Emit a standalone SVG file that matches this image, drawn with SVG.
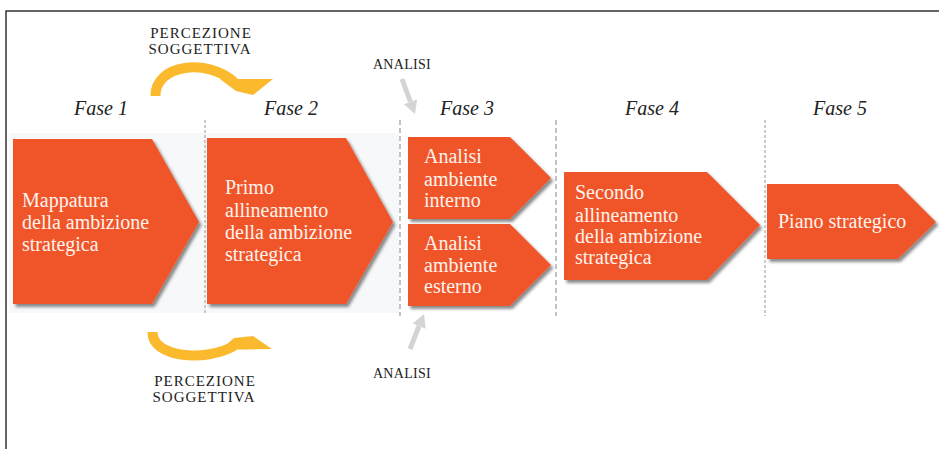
<svg xmlns="http://www.w3.org/2000/svg" width="939" height="449" viewBox="0 0 939 449">
  <defs>
    <filter id="shadow" x="-10%" y="-10%" width="130%" height="130%">
      <feDropShadow dx="2.5" dy="3" stdDeviation="1.6" flood-color="#000" flood-opacity="0.45"/>
    </filter>
  </defs>
  <style>
    .step { fill: #F0552A; filter: url(#shadow); }
    .step-text { font-family: "Liberation Serif", "Times New Roman", serif; font-size: 20px; fill: #FFF3EC; }
    .phase { font-family: "Liberation Serif", "Times New Roman", serif; font-style: italic; font-size: 20px; fill: #222; text-anchor: middle; }
    .caps { font-family: "Liberation Serif", "Times New Roman", serif; fill: #222; text-anchor: middle; }
    .perception { font-size: 15px; letter-spacing: 1px; }
    .analysis { font-size: 14px; letter-spacing: 0.3px; }
    .divider { stroke: #9a9a9a; stroke-width: 1.2; stroke-dasharray: 5 3; fill: none; }
    .divider.fine { stroke-dasharray: 3 2; stroke: #aaaaaa; }
    .loop { fill: none; stroke: #FBB92E; stroke-width: 10; }
    .loop-head { fill: #FBB92E; }
    .probe { stroke: #D3D4D6; stroke-width: 5; fill: none; }
    .probe-head { fill: #D3D4D6; }
  </style>

  <rect width="939" height="449" fill="#ffffff"/>

  <!-- frame -->
  <path d="M6,449 V11 H939" fill="none" stroke="#333" stroke-width="1.5"/>

  <!-- light band behind the first two phases -->
  <rect x="9" y="133" width="390" height="180" fill="#f7f8f9"/>

  <!-- phase headings -->
  <g id="phase-labels">
    <text class="phase" x="101" y="115">Fase 1</text>
    <text class="phase" x="291" y="115">Fase 2</text>
    <text class="phase" x="467" y="115">Fase 3</text>
    <text class="phase" x="652" y="115">Fase 4</text>
    <text class="phase" x="840" y="115">Fase 5</text>
  </g>

  <!-- phase dividers -->
  <g id="dividers">
    <line class="divider fine" x1="205" y1="120" x2="205" y2="314"/>
    <line class="divider" x1="400" y1="120" x2="400" y2="316"/>
    <line class="divider" x1="556" y1="120" x2="556" y2="316"/>
    <line class="divider fine" x1="765" y1="120" x2="765" y2="316"/>
  </g>

  <!-- steps -->
  <g id="step-1">
    <polygon class="step" points="13,139 152,139 199,222 152,304 13,304"/>
    <text class="step-text" x="22" y="207">Mappatura</text>
    <text class="step-text" x="22" y="229">della ambizione</text>
    <text class="step-text" x="22" y="251">strategica</text>
  </g>

  <g id="step-2">
    <polygon class="step" points="207,138 346,138 393,222 346,304 207,304"/>
    <text class="step-text" x="225" y="194">Primo</text>
    <text class="step-text" x="225" y="217">allineamento</text>
    <text class="step-text" x="225" y="239">della ambizione</text>
    <text class="step-text" x="225" y="261">strategica</text>
  </g>

  <g id="step-3a">
    <polygon class="step" points="408,137 510,137 551,178 510,219 408,219"/>
    <text class="step-text" x="424" y="163">Analisi</text>
    <text class="step-text" x="424" y="186">ambiente</text>
    <text class="step-text" x="424" y="207">interno</text>
  </g>

  <g id="step-3b">
    <polygon class="step" points="408,224 510,224 551,265 510,306 408,306"/>
    <text class="step-text" x="424" y="250">Analisi</text>
    <text class="step-text" x="424" y="272">ambiente</text>
    <text class="step-text" x="424" y="293">esterno</text>
  </g>

  <g id="step-4">
    <polygon class="step" points="564,172 707,172 760,225 707,280 564,280"/>
    <text class="step-text" x="575" y="199">Secondo</text>
    <text class="step-text" x="575" y="222">allineamento</text>
    <text class="step-text" x="575" y="243">della ambizione</text>
    <text class="step-text" x="575" y="264">strategica</text>
  </g>

  <g id="step-5">
    <polygon class="step" points="767,184 898,184 936,222 898,259 767,259"/>
    <text class="step-text" x="778" y="228">Piano strategico</text>
  </g>

  <!-- annotations -->
  <g id="perception-top">
    <text class="caps perception" x="201" y="38">PERCEZIONE</text>
    <text class="caps perception" x="200" y="54">SOGGETTIVA</text>
  </g>
  <g id="perception-bottom">
    <text class="caps perception" x="205" y="386">PERCEZIONE</text>
    <text class="caps perception" x="204" y="402">SOGGETTIVA</text>
  </g>
  <g id="analysis-top">
    <text class="caps analysis" x="402" y="69">ANALISI</text>
  </g>
  <g id="analysis-bottom">
    <text class="caps analysis" x="402" y="378">ANALISI</text>
  </g>

  <!-- connectors -->
  <g id="connectors">
    <!-- subjective-perception loops between phase 1 and 2 -->
    <path class="loop" d="M155.5,96 C155,64 208,58 234,82"/>
    <polygon class="loop-head" points="220,79 273,79 253,95 236,91"/>
    <path class="loop" d="M152.5,332 C152,358 206,362 234,346"/>
    <polygon class="loop-head" points="220,350 272,349 253,336 234,338"/>

    <!-- analysis inputs into phase 3 -->
    <line class="probe" x1="402" y1="79" x2="410.5" y2="102"/>
    <polygon class="probe-head" points="417.1,99.4 403.9,104.2 415,114"/>
    <line class="probe" x1="410" y1="349" x2="419" y2="326"/>
    <polygon class="probe-head" points="425.7,328.7 412.7,323.5 424,314"/>
  </g>
</svg>
